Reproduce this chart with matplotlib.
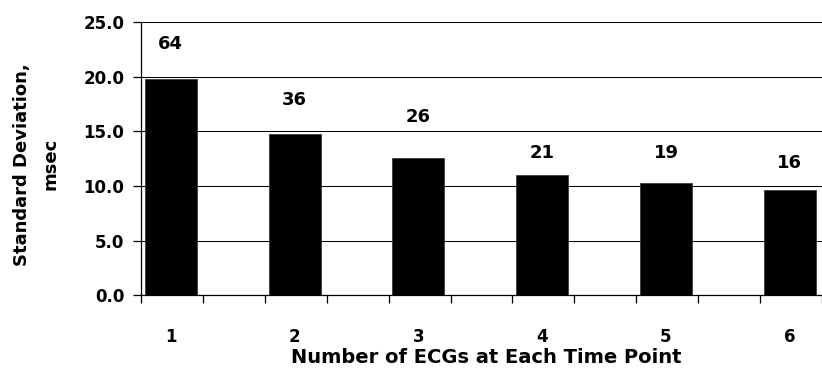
import numpy as np
import matplotlib.pyplot as plt

plt.rcParams['font.family'] = ['DejaVu Sans']
plt.rcParams['font.weight'] = 'bold'

# standard deviation of QTc by number of ECGs averaged per time point
n_ecgs = [1, 2, 3, 4, 5, 6]
std_msec = [19.8, 14.8, 12.6, 11.0, 10.3, 9.6]
sample_n = ['64', '36', '26', '21', '19', '16']
label_y = [23.0, 17.9, 16.3, 13.0, 13.0, 12.1]

fig = plt.figure(figsize=(8.22, 3.76), dpi=100)
ax = fig.add_axes([0.1715, 0.2154, 0.8285, 0.7248])

x = np.array(n_ecgs, dtype=float)
ax.bar(x, std_msec, width=0.42, color='black', edgecolor='#444444', linewidth=0.7, zorder=3)

for xi, yi, s in zip(x, label_y, sample_n):
    ax.text(xi, yi, s, ha='center', va='center', fontsize=13, fontweight='bold')

ax.set_ylim(0, 25)
ax.set_xlim(0.76, 6.208)
yt = np.arange(0, 25.1, 5)
ax.set_yticks(yt)
ax.set_yticklabels(['%.1f' % v for v in yt], fontsize=12, fontweight='bold')
ax.yaxis.grid(True, color='black', linewidth=0.75, zorder=0)
ax.set_axisbelow(True)

ax.set_xticks(x)
ax.set_xticklabels([str(v) for v in n_ecgs], fontsize=12, fontweight='bold')
ax.set_xticks(np.arange(0.76, 6.3, 0.5), minor=True)
ax.tick_params(axis='x', which='major', length=0, pad=23.5)
ax.tick_params(axis='x', which='minor', length=6, width=0.9, direction='out')
ax.tick_params(axis='y', length=6, width=0.9, direction='out', pad=6)

for side in ['top', 'right']:
    ax.spines[side].set_visible(False)
ax.spines['left'].set_linewidth(0.9)
ax.spines['bottom'].set_linewidth(0.9)

ax.set_xlabel('Number of ECGs at Each Time Point', fontsize=14, fontweight='bold')
ax.xaxis.set_label_coords(0.507, -0.194)
ax.xaxis.label.set_va('top')
ax.set_ylabel('Standard Deviation,\nmsec', fontsize=13, fontweight='bold', linespacing=1.75)
ax.yaxis.set_label_coords(-0.12, 0.48)

fig.savefig('out.png', dpi=100)
